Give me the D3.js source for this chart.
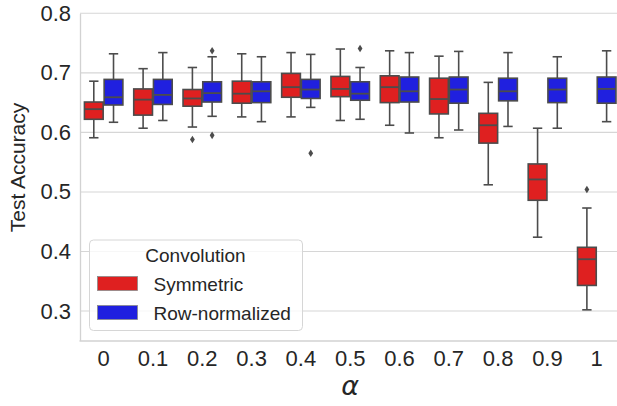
<!DOCTYPE html>
<html>
<head>
<meta charset="utf-8">
<script src="https://cdn.jsdelivr.net/npm/d3@7"></script>
<style>
  body { margin: 0; background: #fff; }
  svg { display: block; }
  text { font-family: "Liberation Sans", Arial, sans-serif; fill: #262626; }
</style>
</head>
<body>
<div id="chart"></div>
<script>
// alpha values on the x axis
const categories = ["0", "0.1", "0.2", "0.3", "0.4", "0.5", "0.6", "0.7", "0.8", "0.9", "1"];
const hues = ["Symmetric", "Row-normalized"];
const yTicks = [0.3, 0.4, 0.5, 0.6, 0.7, 0.8];

// Symmetric convolution: whisker low, Q1, median, Q3, whisker high
const symLo  = [0.591, 0.607, 0.609, 0.626, 0.626, 0.620, 0.612, 0.591, 0.512, 0.424, 0.302];
const symQ1  = [0.622, 0.629, 0.644, 0.649, 0.659, 0.660, 0.650, 0.631, 0.582, 0.486, 0.343];
const symMed = [0.639, 0.655, 0.657, 0.665, 0.676, 0.673, 0.676, 0.656, 0.612, 0.521, 0.387];
const symQ3  = [0.651, 0.673, 0.672, 0.686, 0.699, 0.694, 0.695, 0.691, 0.632, 0.547, 0.407];
const symHi  = [0.686, 0.707, 0.709, 0.732, 0.734, 0.740, 0.737, 0.728, 0.684, 0.607, 0.473];
const symOutliers = [["0.2", 0.588], ["1", 0.504]];

// Row-normalized convolution
const rowLo  = [0.617, 0.620, 0.627, 0.618, 0.642, 0.622, 0.599, 0.604, 0.610, 0.607, 0.618];
const rowQ1  = [0.646, 0.647, 0.651, 0.650, 0.657, 0.654, 0.651, 0.649, 0.653, 0.650, 0.649];
const rowMed = [0.659, 0.663, 0.666, 0.669, 0.672, 0.665, 0.669, 0.672, 0.669, 0.672, 0.673];
const rowQ3  = [0.689, 0.689, 0.685, 0.685, 0.689, 0.685, 0.693, 0.693, 0.691, 0.691, 0.693];
const rowHi  = [0.732, 0.734, 0.727, 0.727, 0.731, 0.709, 0.734, 0.736, 0.734, 0.727, 0.737];
const rowOutliers = [["0.2", 0.737], ["0.2", 0.595], ["0.4", 0.565], ["0.5", 0.741]];

const colors = { "Symmetric": "#df2020", "Row-normalized": "#2020df" };
const lineColor = "#4c4c4c";

const width = 617, height = 406;

const svg = d3.select("#chart").append("svg")
    .attr("width", width)
    .attr("height", height);

const x = d3.scaleBand()
    .domain(categories)
    .range([79, 621.4])
    .padding(0);

const hueScale = d3.scaleBand()
    .domain(hues)
    .range([x.bandwidth() * 0.1, x.bandwidth() * 0.9]);

const y = d3.scaleLinear()
    .domain([0.2505, 0.8])
    .range([340.5, 13.3]);

// grid
svg.append("g")
    .selectAll("line")
    .data(yTicks)
    .enter().append("line")
    .attr("x1", 80)
    .attr("x2", width)
    .attr("y1", d => y(d))
    .attr("y2", d => y(d))
    .attr("stroke", "#d6d6d6")
    .attr("stroke-width", 1.1);

// axes
const yAxis = svg.append("g")
    .attr("transform", "translate(80,0)")
    .call(d3.axisLeft(y).tickValues(yTicks).tickSize(0).tickPadding(9).tickFormat(d3.format(".1f")));

const xAxis = svg.append("g")
    .attr("transform", `translate(0,${y.range()[0]})`)
    .call(d3.axisBottom(x).tickSize(0).tickPadding(10));

[yAxis, xAxis].forEach(g => {
    g.select(".domain").attr("stroke", "#d2d2d2").attr("stroke-width", 1.3);
    g.selectAll("text").style("font-size", "22px").attr("fill", "#262626");
});

svg.append("text")
    .attr("transform", "translate(24.5,167.5) rotate(-90)")
    .attr("text-anchor", "middle")
    .style("font-size", "21px")
    .text("Test Accuracy");

svg.append("text")
    .attr("x", (x.range()[0] + x.range()[1]) / 2)
    .attr("y", 395)
    .attr("text-anchor", "middle")
    .style("font-family", "'DejaVu Sans', sans-serif")
    .style("font-style", "italic")
    .style("font-size", "27px")
    .text("α");

// boxes
function buildStats(hue, lo, q1, med, q3, hi) {
    return categories.map((c, i) => ({ cat: c, hue, lo: lo[i], q1: q1[i], med: med[i], q3: q3[i], hi: hi[i] }));
}
const stats = buildStats("Symmetric", symLo, symQ1, symMed, symQ3, symHi)
    .concat(buildStats("Row-normalized", rowLo, rowQ1, rowMed, rowQ3, rowHi));

const boxW = hueScale.bandwidth() * 0.95;
const cx = d => x(d.cat) + hueScale(d.hue) + hueScale.bandwidth() / 2;

const boxes = svg.append("g")
    .selectAll("g")
    .data(stats)
    .enter().append("g");

boxes.append("line")
    .attr("x1", cx).attr("x2", cx)
    .attr("y1", d => y(d.hi)).attr("y2", d => y(d.q3))
    .attr("stroke", lineColor).attr("stroke-width", 1.6);

boxes.append("line")
    .attr("x1", cx).attr("x2", cx)
    .attr("y1", d => y(d.q1)).attr("y2", d => y(d.lo))
    .attr("stroke", lineColor).attr("stroke-width", 1.6);

boxes.selectAll(".cap")
    .data(d => [d.lo, d.hi].map(v => ({ v, d })))
    .enter().append("line")
    .attr("class", "cap")
    .attr("x1", e => cx(e.d) - boxW / 4)
    .attr("x2", e => cx(e.d) + boxW / 4)
    .attr("y1", e => y(e.v))
    .attr("y2", e => y(e.v))
    .attr("stroke", lineColor).attr("stroke-width", 1.6);

boxes.append("rect")
    .attr("x", d => cx(d) - boxW / 2)
    .attr("width", boxW)
    .attr("y", d => y(d.q3))
    .attr("height", d => y(d.q1) - y(d.q3))
    .attr("fill", d => colors[d.hue])
    .attr("stroke", lineColor)
    .attr("stroke-width", 1.6);

boxes.append("line")
    .attr("x1", d => cx(d) - boxW / 2)
    .attr("x2", d => cx(d) + boxW / 2)
    .attr("y1", d => y(d.med))
    .attr("y2", d => y(d.med))
    .attr("stroke", lineColor).attr("stroke-width", 1.8);

// outliers (thin diamonds)
const outliers = symOutliers.map(o => ({ cat: o[0], hue: "Symmetric", v: o[1] }))
    .concat(rowOutliers.map(o => ({ cat: o[0], hue: "Row-normalized", v: o[1] })));

svg.append("g")
    .selectAll("path")
    .data(outliers)
    .enter().append("path")
    .attr("d", "M0,-3.8L2.4,0L0,3.8L-2.4,0Z")
    .attr("transform", d => `translate(${cx(d)},${y(d.v)})`)
    .attr("fill", lineColor);

// legend
const legend = svg.append("g").attr("transform", "translate(89.5,240)");

legend.append("rect")
    .attr("width", 213)
    .attr("height", 90.5)
    .attr("rx", 4)
    .attr("fill", "#fff")
    .attr("fill-opacity", 0.8)
    .attr("stroke", "#d6d6d6")
    .attr("stroke-width", 1);

legend.append("text")
    .attr("x", 106)
    .attr("y", 21.5)
    .attr("text-anchor", "middle")
    .style("font-size", "19px")
    .text("Convolution");

const items = legend.selectAll(".item")
    .data(hues)
    .enter().append("g")
    .attr("class", "item")
    .attr("transform", (d, i) => `translate(0,${36.5 + i * 29})`);

items.append("rect")
    .attr("x", 8)
    .attr("width", 40)
    .attr("height", 14)
    .attr("fill", d => colors[d])
    .attr("stroke", "#8a8a8a")
    .attr("stroke-width", 0.8);

items.append("text")
    .attr("x", 64)
    .attr("y", 14)
    .style("font-size", "19px")
    .text(d => d);
</script>
</body>
</html>
